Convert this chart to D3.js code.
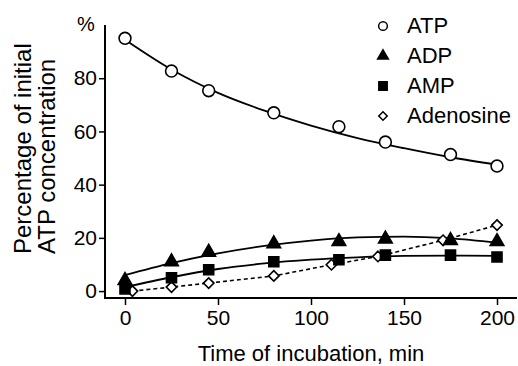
<!DOCTYPE html>
<html>
<head>
<meta charset="utf-8">
<script src="https://cdn.jsdelivr.net/npm/d3@7"></script>
<style>
  body { margin: 0; background: #fff; }
  text { font-family: "Liberation Sans", Arial, sans-serif; fill: #000; }
</style>
</head>
<body>
<div id="chart"></div>
<script>
// measured points (time in min, % of initial ATP)
var atpTime = [0, 25, 45, 80, 115, 140, 175, 200];
var atpVal  = [95, 82.7, 75.3, 67, 61.8, 56, 51.3, 47];
var adpTime = [0, 25, 45, 80, 115, 140, 175, 200];
var adpVal  = [4, 11, 14.6, 17.8, 18.6, 19.6, 19, 18.6];
var ampTime = [0, 25, 45, 80, 115, 140, 175, 200];
var ampVal  = [0.8, 5, 8, 11, 11.8, 13.5, 13.5, 12.8];
var adoTime = [4, 25, 45, 80, 111, 136, 171, 200];
var adoVal  = [0, 1.5, 3, 5.7, 9.9, 13, 19.1, 24.8];

// fitted curves
var fitTime = [0, 25, 50, 75, 100, 125, 150, 175, 200];
var atpFit  = [94.5, 83.3, 74.5, 67.8, 62.2, 57.5, 53.7, 50.3, 47.5];
var adpFit  = [6, 10.5, 14.2, 17, 19, 20.2, 20.5, 19.8, 18.2];
var ampFit  = [1.5, 5.2, 8.3, 10.4, 11.8, 12.7, 13.2, 13.3, 13.2];

var xTicks = [0, 50, 100, 150, 200];
var yTicks = [0, 20, 40, 60, 80];
var legendNames = ["ATP", "ADP", "AMP", "Adenosine"];

var width = 518, height = 366;

var svg = d3.select("#chart")
  .append("svg")
  .attr("width", width)
  .attr("height", height);

var x = d3.scaleLinear().domain([-10.75, 210.75]).range([105, 517]);
var y = d3.scaleLinear().domain([-2.6, 100]).range([298, 25]);

function zip(a, b) { return a.map(function(d, i) { return [d, b[i]]; }); }

// axes
svg.append("g")
  .attr("transform", "translate(0,298)")
  .call(d3.axisBottom(x).tickValues(xTicks).tickSize(7).tickPadding(5))
  .call(function(g) {
    g.select(".domain").attr("d", "M105,0H517").attr("stroke-width", 2);
    g.selectAll(".tick line").attr("stroke-width", 1.5);
    g.selectAll(".tick text").attr("font-size", "21px").attr("font-family", "Liberation Sans, Arial, sans-serif");
  });

svg.append("g")
  .attr("transform", "translate(105,0)")
  .call(d3.axisLeft(y).tickValues(yTicks).tickSize(6).tickPadding(2))
  .call(function(g) {
    g.select(".domain").attr("d", "M0,25V299").attr("stroke-width", 2);
    g.selectAll(".tick line").attr("stroke-width", 1.5);
    g.selectAll(".tick text").attr("font-size", "21px").attr("font-family", "Liberation Sans, Arial, sans-serif");
  });

svg.append("text")
  .attr("x", 86).attr("y", 31)
  .attr("text-anchor", "middle")
  .attr("font-size", "20px")
  .text("%");

// axis labels
svg.append("text")
  .attr("x", 311).attr("y", 361)
  .attr("text-anchor", "middle")
  .attr("font-size", "22px")
  .text("Time of incubation, min");

var ylab = svg.append("text")
  .attr("transform", "translate(0,254) rotate(-90)")
  .attr("font-size", "24px");
ylab.append("tspan").attr("x", 0).attr("y", 31).text("Percentage of initial");
ylab.append("tspan").attr("x", 0).attr("y", 55).text("ATP concentration");

// fitted lines
var smooth = d3.line()
  .x(function(d) { return x(d[0]); })
  .y(function(d) { return y(d[1]); })
  .curve(d3.curveMonotoneX);

[atpFit, adpFit, ampFit].forEach(function(f) {
  svg.append("path")
    .attr("d", smooth(zip(fitTime, f)))
    .attr("fill", "none")
    .attr("stroke", "#000")
    .attr("stroke-width", 1.8);
});

svg.append("path")
  .attr("d", d3.line().x(function(d) { return x(d[0]); }).y(function(d) { return y(d[1]); })(zip(adoTime, adoVal)))
  .attr("fill", "none")
  .attr("stroke", "#000")
  .attr("stroke-width", 1.6)
  .attr("stroke-dasharray", "4,3");

// markers
var sym = {
  ATP: d3.symbol().type(d3.symbolCircle).size(110),
  ADP: d3.symbol().type(d3.symbolTriangle).size(80),
  AMP: d3.symbol().type(d3.symbolSquare).size(100),
  Adenosine: d3.symbol().type(d3.symbolDiamond2).size(70)
};
var filled = { ATP: false, ADP: true, AMP: true, Adenosine: false };

function drawMarkers(name, t, v) {
  svg.append("g").selectAll("path")
    .data(zip(t, v))
    .enter()
    .append("path")
    .attr("transform", function(d) { return "translate(" + x(d[0]) + "," + y(d[1]) + ")"; })
    .attr("d", sym[name])
    .attr("fill", filled[name] ? "#000" : "#fff")
    .attr("stroke", "#000")
    .attr("stroke-width", 1.6);
}
drawMarkers("Adenosine", adoTime, adoVal);
drawMarkers("AMP", ampTime, ampVal);
drawMarkers("ADP", adpTime, adpVal);
drawMarkers("ATP", atpTime, atpVal);

// legend
var leg = svg.append("g");
legendNames.forEach(function(name, i) {
  var by = 33 + i * 30;
  var small = {
    ATP: d3.symbol().type(d3.symbolCircle).size(60),
    ADP: d3.symbol().type(d3.symbolTriangle).size(50),
    AMP: d3.symbol().type(d3.symbolSquare).size(70),
    Adenosine: d3.symbol().type(d3.symbolDiamond2).size(45)
  };
  leg.append("path")
    .attr("transform", "translate(383," + (by - 7) + ")")
    .attr("d", small[name])
    .attr("fill", filled[name] ? "#000" : "#fff")
    .attr("stroke", "#000")
    .attr("stroke-width", 1.5);
  leg.append("text")
    .attr("x", 407).attr("y", by)
    .attr("font-size", "22px")
    .text(name);
});
</script>
</body>
</html>
